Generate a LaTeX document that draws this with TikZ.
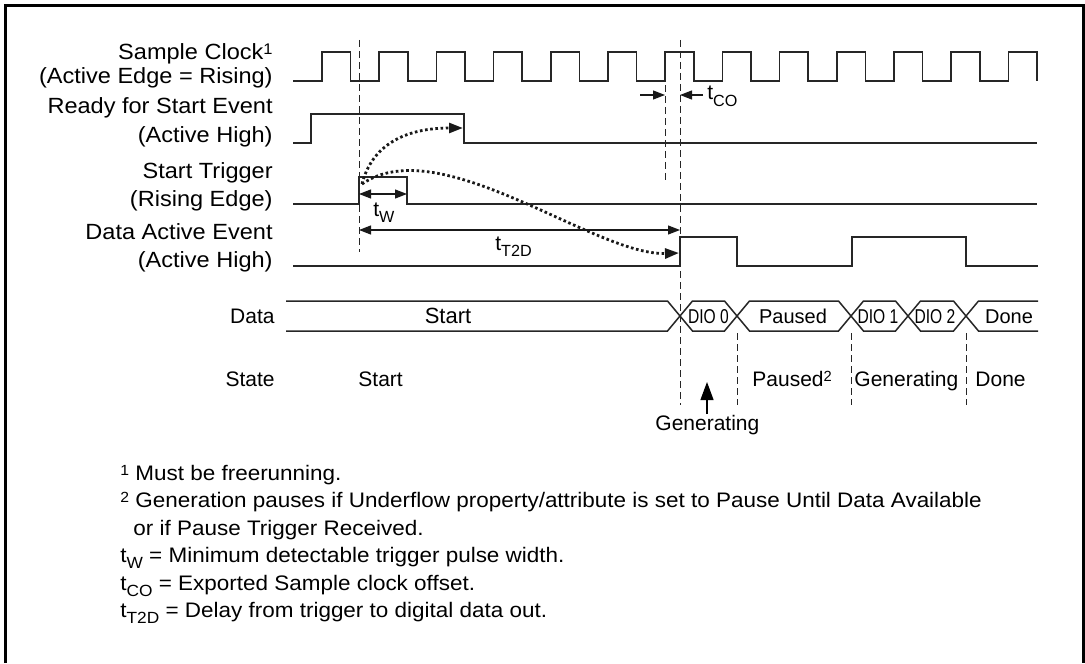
\documentclass[tikz,border=0pt]{standalone}
\usepackage{fontspec}
\setmainfont{Liberation Sans}
\newfontfamily\lblf{Liberation Sans}[FakeStretch=1.07]
\usetikzlibrary{arrows.meta}
\newcommand\tsub[1]{\raisebox{-0.55ex}{\scalebox{0.77}{#1}}}
\newcommand\tsup[1]{\raisebox{0.45ex}{\scalebox{0.7}{#1}}}
\begin{document}
\begin{tikzpicture}[x=0.5pt,y=-0.5pt,
  font=\fontsize{10}{12}\selectfont,
  sig/.style={line width=0.75pt, black!85, line join=miter},
  guide/.style={line width=0.5pt, black!85, dash pattern=on 3.5pt off 2pt},
  dotarrow/.style={line width=1.4pt, black!90, dash pattern=on 1.3pt off 1.3pt,
     -{Triangle[length=7pt,width=5pt]}},
  dimarrow/.style={line width=0.6pt, black!90,
     {Triangle[length=6pt,width=4.5pt]}-{Triangle[length=6pt,width=4.5pt]}},
  onearrow/.style={line width=0.6pt, black!90, -{Triangle[length=6pt,width=4.5pt]}},
  lbl/.style={anchor=base east, inner sep=0pt, font=\lblf\fontsize{11}{13}\selectfont},
  fn/.style={anchor=base west, inner sep=0pt, font=\lblf\fontsize{10.5}{12}\selectfont},
  st/.style={anchor=base west, inner sep=0pt, font=\fontsize{10.5}{12}\selectfont},
  bustxt/.style={inner sep=0pt, text height=0.72em, text depth=0pt, anchor=center}]

\useasboundingbox (0,0) rectangle (1085,663);
\draw[line width=1.5pt] (5.5,663) -- (5.5,6) -- (1083.5,6) -- (1083.5,663);

% ---------- left labels ----------
\node[lbl] (lclk1) at (273,59.5) {Sample Clock\tsup{1}};
\node[lbl] (lclk2) at (273,84) {(Active Edge = Rising)};
\node[lbl] (lrdy1) at (273,114) {Ready for Start Event};
\node[lbl] (lrdy2) at (273,143) {(Active High)};
\node[lbl] (lst1) at (273,178) {Start Trigger};
\node[lbl] (lst2) at (273,206) {(Rising Edge)};
\node[lbl] (lda1) at (273,239) {Data Active Event};
\node[lbl] (lda2) at (273,267) {(Active High)};
\node[lbl, font=\fontsize{10.5}{12}\selectfont] (ldata) at (275,323) {Data};
\node[lbl, font=\fontsize{10.5}{12}\selectfont] (lstate) at (275,386) {State};

% ---------- guides ----------
\draw[guide] (359,40) -- (359,252);
\draw[guide] (680,40) -- (680,405);
\draw[guide] (665,85) -- (665,183);
\foreach \x in {737,851,966} \draw[guide] (\x,333) -- (\x,405);

% ---------- sample clock ----------
\draw[sig] (293,81) foreach \k in {0,...,12} {
   -- ({322+57.2*\k},81) -- ({322+57.2*\k},52)
   -- ({350.6+57.2*\k},52) -- ({350.6+57.2*\k},81) };

% ---------- other signals ----------
\draw[sig] (293,143) -- (311,143) -- (311,114) -- (464,114) -- (464,143) -- (1037,143);
\draw[sig] (293,204) -- (359,204) -- (359,177) -- (407,177) -- (407,204) -- (1037,204);
\draw[sig] (293,266) -- (680,266) -- (680,237) -- (737,237) -- (737,266)
   -- (852,266) -- (852,237) -- (966,237) -- (966,266) -- (1038,266);

% ---------- t_CO ----------
\coordinate (co1) at (640,95);
\coordinate (co1e) at (665,95);
\coordinate (co2) at (703,95);
\coordinate (co2e) at (680,95);
\draw[onearrow] (co1) -- (co1e);
\draw[onearrow] (co2) -- (co2e);
\node[st] (tco) at (707,100) {t\tsub{CO}};

% ---------- t_W and t_T2D ----------
\coordinate (tw1) at (359,194);
\coordinate (tw2) at (407,194);
\draw[dimarrow] (tw1) -- (tw2);
\node[st] (tw) at (373,216) {t\tsub{W}};
\coordinate (td1) at (359,230);
\coordinate (td2) at (680,230);
\draw[dimarrow] (td1) -- (td2);
\node[st] (ttd) at (495,250) {t\tsub{T2D}};

% ---------- dotted cause arrows ----------
\coordinate (src) at (362,184);
\coordinate (rdyfall) at (463,128);
\coordinate (daon) at (679,253);
\draw[dotarrow] (src) .. controls (372,145) and (405,128) .. (rdyfall);
\draw[dotarrow] (src) .. controls (440,130) and (595,256) .. (daon);

% ---------- data bus ----------
\def\d{12.5}
\draw[sig] (286,301) -- ({680-\d},301) -- (680,316) -- ({680-\d},331) -- (286,331);
\foreach \a/\b in {680/737, 737/851, 851/908, 908/966}
  \draw[sig] (\a,316) -- ({\a+\d},301) -- ({\b-\d},301) -- (\b,316)
     -- ({\b-\d},331) -- ({\a+\d},331) -- cycle;
\draw[sig] (1038,301) -- ({966+\d},301) -- (966,316) -- ({966+\d},331) -- (1038,331);

\node[bustxt, font=\fontsize{11}{12}\selectfont] (bstart) at (448,316) {Start};
\node[bustxt] (bdio0) at (708.5,316) {\scalebox{0.78}[1]{DIO 0}};
\node[bustxt] (bpaused) at (793,316) {Paused};
\node[bustxt] (bdio1) at (878,316) {\scalebox{0.78}[1]{DIO 1}};
\node[bustxt] (bdio2) at (935,316) {\scalebox{0.78}[1]{DIO 2}};
\node[bustxt] (bdone) at (1009,316) {Done};

% ---------- states ----------
\node[st] (sstart) at (358,386) {Start};
\node[st] (spaused) at (752,386) {Paused\tsup{2}};
\node[st] (sgen) at (854,386) {Generating};
\node[st] (sdone) at (975,386) {Done};
\node[st] (sgen0) at (655,430) {Generating};
\coordinate (garrow) at (707,414);
\coordinate (garrowtip) at (707,382);
\draw[line width=0.6pt, -{Triangle[length=9pt,width=6.5pt]}] (garrow) -- (garrowtip);

% ---------- footnotes ----------
\node[fn] (fn1) at (120,480) {\tsup{1} Must be freerunning.};
\node[fn] (fn2) at (120,507.5) {\tsup{2} Generation pauses if Underflow property/attribute is set to Pause Until Data Available};
\node[fn] (fn2b) at (133,535) {or if Pause Trigger Received.};
\node[fn] (fn3) at (120,562.5) {t\tsub{W} = Minimum detectable trigger pulse width.};
\node[fn] (fn4) at (120,590) {t\tsub{CO} = Exported Sample clock offset.};
\node[fn] (fn5) at (120,617.5) {t\tsub{T2D} = Delay from trigger to digital data out.};
\end{tikzpicture}
\end{document}
